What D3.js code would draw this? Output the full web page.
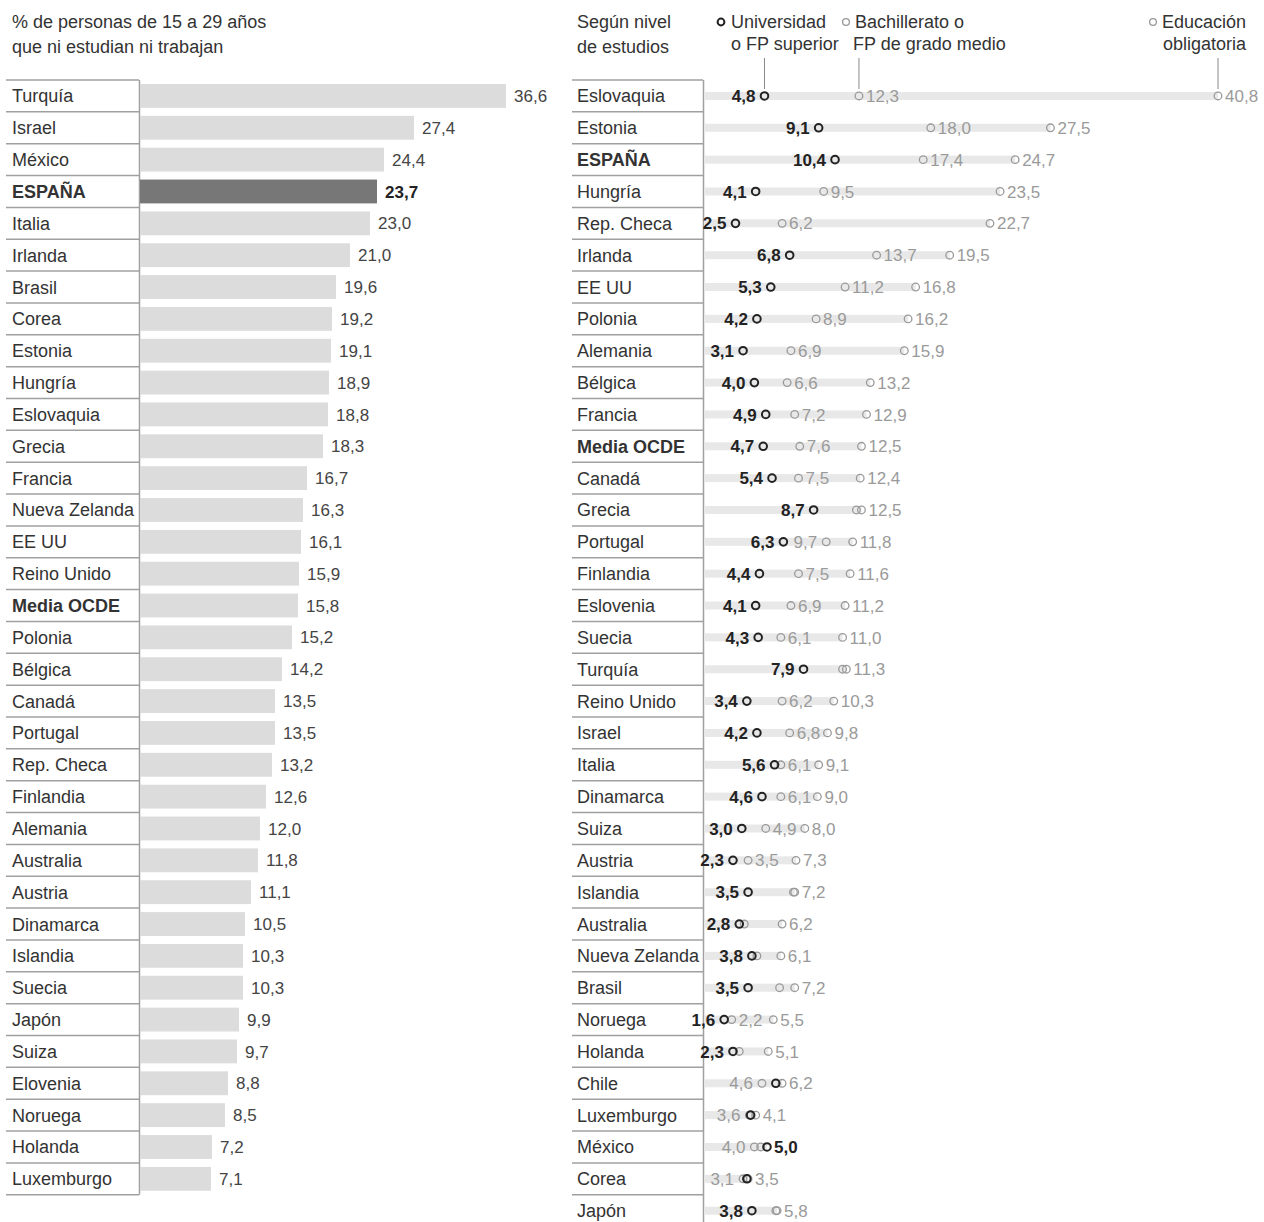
<!DOCTYPE html>
<html>
<head>
<meta charset="utf-8">
<script src="https://cdn.jsdelivr.net/npm/d3@7"></script>
<style>
  body { margin: 0; background: #fff; }
  svg { font-family: "Liberation Sans", Arial, sans-serif; }
</style>
</head>
<body>
<svg width="1264" height="1222"></svg>
<script>
// Left panel: % de personas de 15 a 29 años que ni estudian ni trabajan
var paises = ["Turquía", "Israel", "México", "ESPAÑA", "Italia", "Irlanda", "Brasil", "Corea", "Estonia",
  "Hungría", "Eslovaquia", "Grecia", "Francia", "Nueva Zelanda", "EE UU", "Reino Unido", "Media OCDE",
  "Polonia", "Bélgica", "Canadá", "Portugal", "Rep. Checa", "Finlandia", "Alemania", "Australia", "Austria",
  "Dinamarca", "Islandia", "Suecia", "Japón", "Suiza", "Elovenia", "Noruega", "Holanda", "Luxemburgo"];
var ninis = [36.6, 27.4, 24.4, 23.7, 23.0, 21.0, 19.6, 19.2, 19.1,
  18.9, 18.8, 18.3, 16.7, 16.3, 16.1, 15.9, 15.8,
  15.2, 14.2, 13.5, 13.5, 13.2, 12.6, 12.0, 11.8, 11.1,
  10.5, 10.3, 10.3, 9.9, 9.7, 8.8, 8.5, 7.2, 7.1];

// Right panel: según nivel de estudios
var paisesNivel = ["Eslovaquia", "Estonia", "ESPAÑA", "Hungría", "Rep. Checa", "Irlanda", "EE UU", "Polonia",
  "Alemania", "Bélgica", "Francia", "Media OCDE", "Canadá", "Grecia", "Portugal", "Finlandia", "Eslovenia",
  "Suecia", "Turquía", "Reino Unido", "Israel", "Italia", "Dinamarca", "Suiza", "Austria", "Islandia",
  "Australia", "Nueva Zelanda", "Brasil", "Noruega", "Holanda", "Chile", "Luxemburgo", "México", "Corea", "Japón"];
var universidad = [4.8, 9.1, 10.4, 4.1, 2.5, 6.8, 5.3, 4.2,
  3.1, 4.0, 4.9, 4.7, 5.4, 8.7, 6.3, 4.4, 4.1,
  4.3, 7.9, 3.4, 4.2, 5.6, 4.6, 3.0, 2.3, 3.5,
  2.8, 3.8, 3.5, 1.6, 2.3, 5.7, 3.7, 5.0, 3.4, 3.8];
var bachillerato = [12.3, 18.0, 17.4, 9.5, 6.2, 13.7, 11.2, 8.9,
  6.9, 6.6, 7.2, 7.6, 7.5, 12.1, 9.7, 7.5, 6.9,
  6.1, 11.0, 6.2, 6.8, 6.1, 6.1, 4.9, 3.5, 7.1,
  3.2, 4.2, 6.0, 2.2, 2.8, 4.6, 3.6, 4.0, 3.1, 5.7];
var obligatoria = [40.8, 27.5, 24.7, 23.5, 22.7, 19.5, 16.8, 16.2,
  15.9, 13.2, 12.9, 12.5, 12.4, 12.5, 11.8, 11.6, 11.2,
  11.0, 11.3, 10.3, 9.8, 9.1, 9.0, 8.0, 7.3, 7.2,
  6.2, 6.1, 7.2, 5.5, 5.1, 6.2, 4.1, 4.5, 3.5, 5.8];

var destacados = ["ESPAÑA", "Media OCDE"];
var fmt = function(v) { return d3.format(".1f")(v).replace(".", ","); };

var svg = d3.select("svg"),
  top0 = 80,
  rowH = 31.85,
  textCol = "#333",
  lineCol = "#a0a0a0";

// ---------- titles ----------
svg.append("text").attr("x", 12).attr("y", 28).attr("fill", textCol).style("font-size", "18px")
  .text("% de personas de 15 a 29 años");
svg.append("text").attr("x", 12).attr("y", 53).attr("fill", textCol).style("font-size", "18px")
  .text("que ni estudian ni trabajan");

// ---------- left panel ----------
var yL = d3.scaleBand().domain(paises).range([top0, top0 + paises.length * rowH]);
var xL = d3.scaleLinear().domain([0, 36.6]).range([140, 506]);
var left = svg.append("g");
var dataL = paises.map(function(p, i) { return {pais: p, v: ninis[i]}; });

left.selectAll(".sep").data([top0].concat(paises.map(function(p) { return yL(p) + yL.bandwidth(); })))
  .enter().append("line")
  .attr("x1", 6).attr("x2", 139).attr("y1", function(d) { return d; }).attr("y2", function(d) { return d; })
  .attr("stroke", lineCol).attr("stroke-width", 1.5);

left.append("line").attr("x1", 139.5).attr("x2", 139.5)
  .attr("y1", top0).attr("y2", top0 + paises.length * rowH)
  .attr("stroke", lineCol).attr("stroke-width", 1.5);

left.selectAll(".bar").data(dataL).enter().append("rect")
  .attr("x", xL(0))
  .attr("y", function(d) { return yL(d.pais) + 4; })
  .attr("height", yL.bandwidth() - 8)
  .attr("width", function(d) { return xL(d.v) - xL(0); })
  .attr("fill", function(d) { return d.pais === "ESPAÑA" ? "#777" : "#dcdcdc"; });

left.selectAll(".lab").data(dataL).enter().append("text")
  .attr("x", 12)
  .attr("y", function(d) { return yL(d.pais) + yL.bandwidth() / 2; })
  .attr("dy", "0.36em")
  .attr("fill", textCol)
  .style("font-size", "18px")
  .style("font-weight", function(d) { return destacados.indexOf(d.pais) >= 0 ? "bold" : "normal"; })
  .text(function(d) { return d.pais; });

left.selectAll(".val").data(dataL).enter().append("text")
  .attr("x", function(d) { return xL(d.v) + 8; })
  .attr("y", function(d) { return yL(d.pais) + yL.bandwidth() / 2; })
  .attr("dy", "0.36em")
  .attr("fill", function(d) { return d.pais === "ESPAÑA" ? "#222" : "#444"; })
  .style("font-size", "17px")
  .style("font-weight", function(d) { return d.pais === "ESPAÑA" ? "bold" : "normal"; })
  .text(function(d) { return fmt(d.v); });

// ---------- right panel ----------
var yR = d3.scaleBand().domain(paisesNivel).range([top0, top0 + paisesNivel.length * rowH]);
var xR = d3.scaleLinear().domain([0, 40.8]).range([704, 1218]);
var right = svg.append("g");

svg.append("text").attr("x", 577).attr("y", 28).attr("fill", textCol).style("font-size", "18px").text("Según nivel");
svg.append("text").attr("x", 577).attr("y", 53).attr("fill", textCol).style("font-size", "18px").text("de estudios");

var legend = [
  {lines: ["Universidad", "o FP superior"], cx: 721, tx: 731, anchor: "start", dark: true},
  {lines: ["Bachillerato o", "FP de grado medio"], cx: 846, tx: 855, anchor: "start", dark: false},
  {lines: ["Educación", "obligatoria"], cx: 1153, tx: 1246, anchor: "end", dark: false}
];
legend.forEach(function(l) {
  svg.append("circle").attr("cx", l.cx).attr("cy", 22).attr("r", 3.4).attr("fill", "#fff")
    .attr("stroke", l.dark ? "#222" : "#999").attr("stroke-width", l.dark ? 2 : 1.3);
  l.lines.forEach(function(t, i) {
    svg.append("text").attr("x", l.tx - (i === 1 && l.anchor === "start" && !l.dark ? 2 : 0))
      .attr("y", 28 + i * 22).attr("text-anchor", l.anchor)
      .attr("fill", textCol).style("font-size", "18px").text(t);
  });
});

// leader lines to the first row values
var primero = [universidad[0], bachillerato[0], obligatoria[0]];
svg.selectAll(".leader").data(primero).enter().append("line")
  .attr("x1", function(d) { return xR(d); }).attr("x2", function(d) { return xR(d); })
  .attr("y1", 58).attr("y2", 89)
  .attr("stroke", "#888").attr("stroke-width", 1);

right.selectAll(".sep").data([top0].concat(paisesNivel.map(function(p) { return yR(p) + yR.bandwidth(); })))
  .enter().append("line")
  .attr("x1", 572).attr("x2", 703).attr("y1", function(d) { return d; }).attr("y2", function(d) { return d; })
  .attr("stroke", lineCol).attr("stroke-width", 1.5);

right.append("line").attr("x1", 703.5).attr("x2", 703.5)
  .attr("y1", top0).attr("y2", 1222)
  .attr("stroke", lineCol).attr("stroke-width", 1.5);

var dataR = paisesNivel.map(function(p, i) {
  var pts = [
    {k: "uni", v: universidad[i]},
    {k: "bach", v: bachillerato[i]},
    {k: "obl", v: obligatoria[i]}
  ];
  var s = pts.slice().sort(function(a, b) { return a.v - b.v; });
  s[0].side = "left";
  s[2].side = "right";
  var gapR = s[2].v - s[1].v, gapL = s[1].v - s[0].v;
  if (gapL < 0.45) s[1].side = "none";
  else s[1].side = gapR >= 2.5 ? "right" : (gapR >= 1.5 && gapL >= 3 ? "left" : "none");
  return {pais: p, pts: pts, max: s[2].v};
});

right.selectAll(".lab").data(dataR).enter().append("text")
  .attr("x", 577)
  .attr("y", function(d) { return yR(d.pais) + yR.bandwidth() / 2; })
  .attr("dy", "0.36em")
  .attr("fill", textCol)
  .style("font-size", "18px")
  .style("font-weight", function(d) { return destacados.indexOf(d.pais) >= 0 ? "bold" : "normal"; })
  .text(function(d) { return d.pais; });

var row = right.selectAll(".row").data(dataR).enter().append("g")
  .attr("transform", function(d) { return "translate(0," + (yR(d.pais) + yR.bandwidth() / 2) + ")"; });

row.append("rect")
  .attr("x", xR(0))
  .attr("y", -4)
  .attr("height", 8)
  .attr("width", function(d) { return xR(d.max) - xR(0); })
  .attr("fill", "#e8e8e8");

// draw grey circles first, university on top
row.selectAll("circle").data(function(d) {
    return d.pts.slice().sort(function(a, b) { return (a.k === "uni") - (b.k === "uni"); });
  })
  .enter().append("circle")
  .attr("cx", function(d) { return xR(d.v); })
  .attr("cy", 0)
  .attr("r", 3.8)
  .attr("fill", "none")
  .attr("stroke", function(d) { return d.k === "uni" ? "#222" : "#9a9a9a"; })
  .attr("stroke-width", function(d) { return d.k === "uni" ? 2 : 1.3; });

row.selectAll(".v").data(function(d) { return d.pts.filter(function(p) { return p.side !== "none"; }); })
  .enter().append("text")
  .attr("x", function(d) { return d.side === "left" ? xR(d.v) - 9 : xR(d.v) + 7; })
  .attr("dy", "0.36em")
  .attr("text-anchor", function(d) { return d.side === "left" ? "end" : "start"; })
  .attr("fill", function(d) { return d.k === "uni" ? "#222" : "#9a9a9a"; })
  .style("font-size", "17px")
  .style("font-weight", function(d) { return d.k === "uni" ? "bold" : "normal"; })
  .text(function(d) { return fmt(d.v); });
</script>
</body>
</html>
